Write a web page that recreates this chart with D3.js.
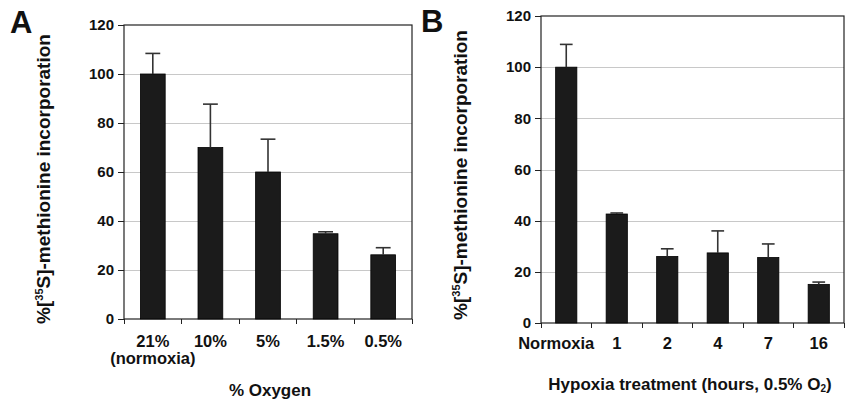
<!DOCTYPE html>
<html lang="en">
<head>
<meta charset="utf-8">
<title>Methionine incorporation</title>
<script src="https://cdn.jsdelivr.net/npm/d3@7"></script>
<style>
  body { margin: 0; background: #fff; }
  svg text { font-family: "Liberation Sans", Arial, sans-serif; font-weight: bold; fill: #111; }
  .axis path, .axis line { stroke: #222; shape-rendering: crispEdges; }
  .grid line { stroke: #c8c8c8; shape-rendering: crispEdges; }
</style>
</head>
<body>
<script>
// panel A data
var catsA = ["21%\n(normoxia)", "10%", "5%", "1.5%", "0.5%"];
var valuesA = [100, 70, 60, 34.8, 26.2];
var errorsA = [8.4, 17.7, 13.4, 0.8, 2.9];

// panel B data
var catsB = ["Normoxia", "1", "2", "4", "7", "16"];
var valuesB = [100, 42.6, 26, 27.4, 25.6, 15.1];
var errorsB = [8.9, 0.4, 3, 8.6, 5.3, 0.9];

var yTicks = [0, 20, 40, 60, 80, 100, 120];

var svg = d3.select("body").append("svg")
    .attr("width", 847)
    .attr("height", 401);

function drawPanel(o) {
  var x = d3.scaleBand().domain(d3.range(o.cats.length)).range([o.left, o.right]);
  var y = d3.scaleLinear().domain([0, 120]).range([o.bottom, o.top]);
  var g = svg.append("g");

  // gridlines
  g.append("g").attr("class", "grid")
    .selectAll("line")
    .data(yTicks.filter(function(d) { return d > 0 && d < 120; }))
    .enter().append("line")
    .attr("x1", o.left).attr("x2", o.right)
    .attr("y1", function(d) { return Math.round(y(d)) + 0.5; })
    .attr("y2", function(d) { return Math.round(y(d)) + 0.5; });

  // box
  g.append("rect")
    .attr("x", o.left).attr("y", o.top)
    .attr("width", o.right - o.left).attr("height", o.bottom - o.top)
    .attr("fill", "none").attr("stroke", "#222").attr("stroke-width", 1.2);

  // bars
  var bw = x.bandwidth() * o.barFrac;
  g.selectAll("rect.bar")
    .data(o.values)
    .enter().append("rect")
    .attr("class", "bar")
    .attr("x", function(d, i) { return x(i) + (x.bandwidth() - bw) / 2; })
    .attr("y", function(d) { return y(d); })
    .attr("width", bw)
    .attr("height", function(d) { return y(0) - y(d); })
    .attr("fill", "#1b1b1b")
    .attr("stroke", "#000")
    .attr("stroke-width", 0.8);

  // error bars (upper only)
  var eb = g.selectAll("g.err").data(o.values).enter().append("g").attr("class", "err");
  eb.append("line")
    .attr("x1", function(d, i) { return x(i) + x.bandwidth() / 2; })
    .attr("x2", function(d, i) { return x(i) + x.bandwidth() / 2; })
    .attr("y1", function(d) { return y(d); })
    .attr("y2", function(d, i) { return y(d + o.errors[i]); })
    .attr("stroke", "#333").attr("stroke-width", 1.6);
  eb.append("line")
    .attr("x1", function(d, i) { return x(i) + x.bandwidth() / 2 - bw * 0.3; })
    .attr("x2", function(d, i) { return x(i) + x.bandwidth() / 2 + bw * 0.3; })
    .attr("y1", function(d, i) { return y(d + o.errors[i]); })
    .attr("y2", function(d, i) { return y(d + o.errors[i]); })
    .attr("stroke", "#333").attr("stroke-width", 1.6);

  // y axis
  var yAxis = d3.axisLeft(y).tickValues(yTicks).tickSize(6).tickPadding(4);
  var ya = g.append("g").attr("class", "axis")
    .attr("transform", "translate(" + o.left + ",0)")
    .call(yAxis);
  ya.select(".domain").remove();
  ya.selectAll("text").attr("font-size", "15px").attr("fill", "#111");

  // x axis: tick marks at band edges
  var edges = d3.range(o.cats.length + 1);
  g.append("g").attr("class", "axis")
    .selectAll("line")
    .data(edges)
    .enter().append("line")
    .attr("x1", function(d) { return o.left + d * x.step(); })
    .attr("x2", function(d) { return o.left + d * x.step(); })
    .attr("y1", o.bottom).attr("y2", o.bottom + 5);

  g.selectAll("text.cat")
    .data(o.cats)
    .enter().append("text")
    .attr("class", "cat")
    .attr("text-anchor", "middle")
    .attr("font-size", "16.5px")
    .attr("x", function(d, i) { return x(i) + x.bandwidth() / 2 + (i === 0 ? o.firstShift : 0); })
    .attr("y", o.catY)
    .each(function(d) {
      var t = d3.select(this);
      d.split("\n").forEach(function(s, k) {
        t.append("tspan")
          .attr("x", t.attr("x"))
          .attr("dy", k === 0 ? 0 : 16.5)
          .text(s);
      });
    });

  // y title
  var yt = svg.append("text")
    .attr("text-anchor", "middle")
    .attr("font-size", "19px")
    .attr("transform", "translate(" + o.yTitleX + "," + o.yTitleY + ") rotate(-90)");
  yt.append("tspan").text("%[");
  yt.append("tspan").attr("font-size", "11px").attr("dy", -7).text("35");
  yt.append("tspan").attr("dy", 7).text("S]-methionine incorporation");

  // x title
  var xt = svg.append("text")
    .attr("text-anchor", "middle")
    .attr("font-size", "17px")
    .attr("x", o.xTitleX).attr("y", o.xTitleY);
  o.xTitle(xt);

  // panel letter
  svg.append("text")
    .attr("font-size", "31px")
    .attr("x", o.letterX).attr("y", o.letterY)
    .text(o.letter);
}

drawPanel({
  cats: catsA, values: valuesA, errors: errorsA,
  left: 124, right: 412, top: 25, bottom: 319,
  barFrac: 0.43, firstShift: 0, catY: 347,
  yTitleX: 50, yTitleY: 179,
  xTitleX: 270, xTitleY: 396,
  xTitle: function(t) { t.text("% Oxygen"); },
  letter: "A", letterX: 10, letterY: 33
});

drawPanel({
  cats: catsB, values: valuesB, errors: errorsB,
  left: 541, right: 844, top: 16, bottom: 323,
  barFrac: 0.42, firstShift: -10, catY: 349,
  yTitleX: 467, yTitleY: 175,
  xTitleX: 690, xTitleY: 390,
  xTitle: function(t) {
    t.append("tspan").text("Hypoxia treatment (hours, 0.5% O");
    t.append("tspan").attr("font-size", "10px").attr("dy", 2).text("2");
    t.append("tspan").attr("dy", -2).text(")");
  },
  letter: "B", letterX: 421, letterY: 32
});
</script>
</body>
</html>
